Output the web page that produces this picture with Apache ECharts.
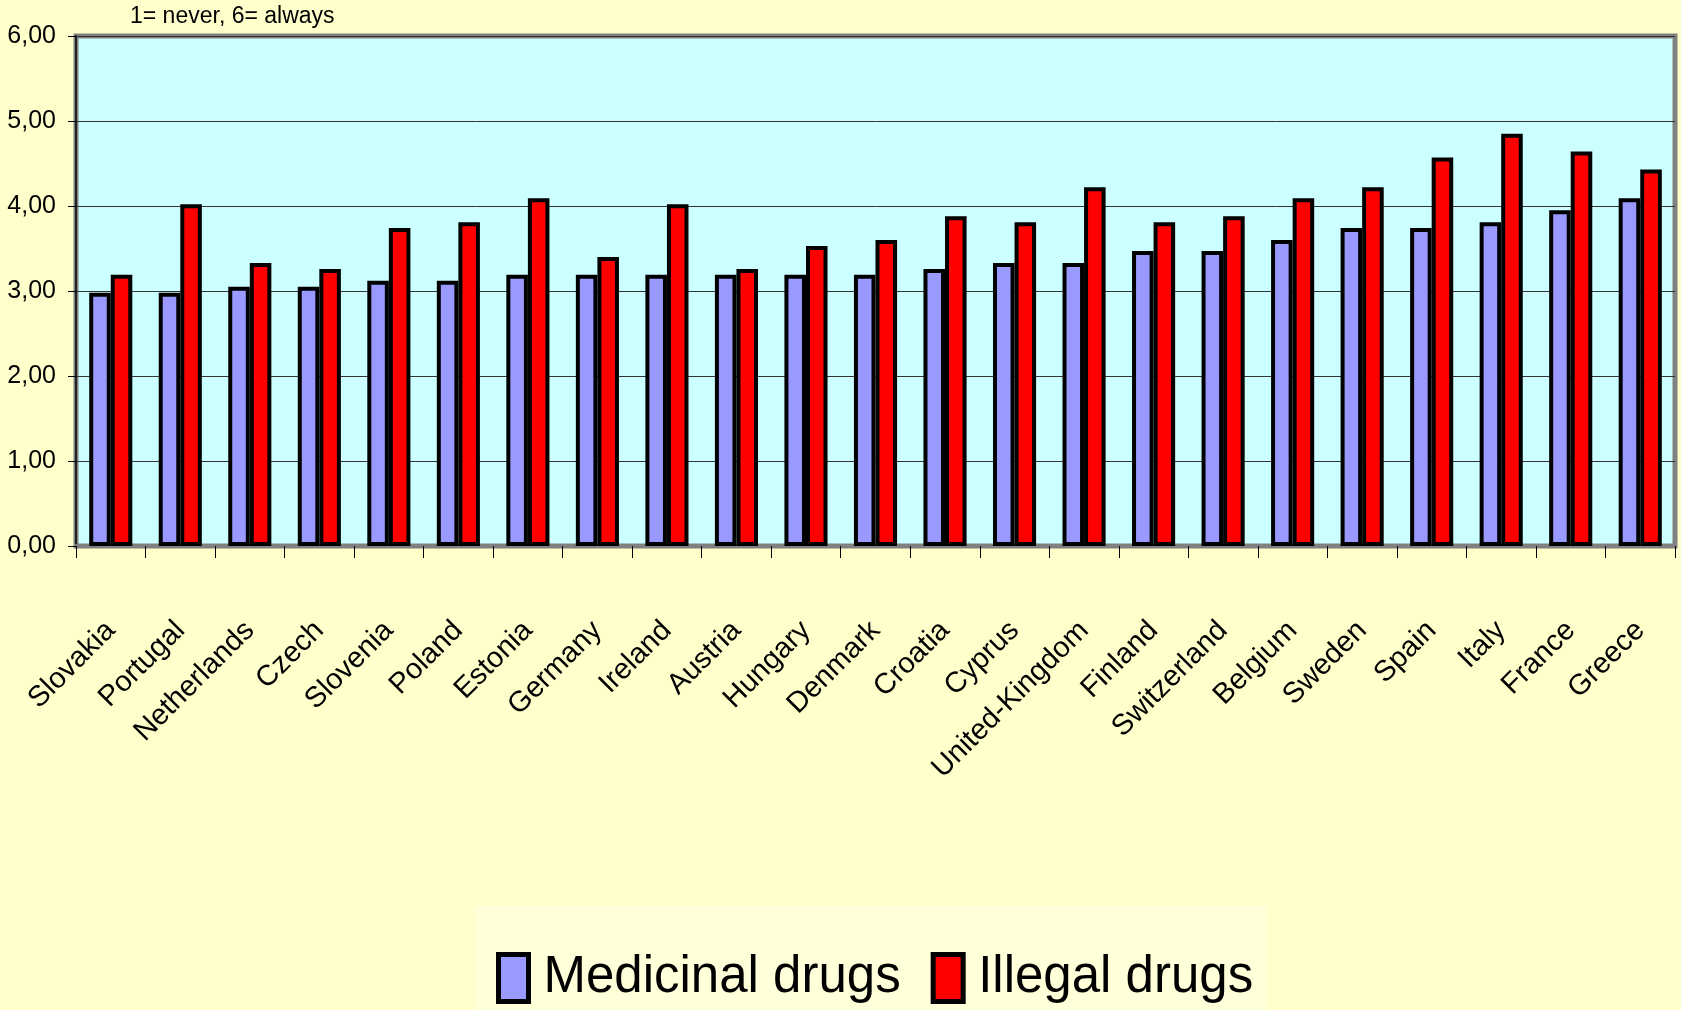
<!DOCTYPE html>
<html>
<head>
<meta charset="utf-8">
<script src="https://cdn.jsdelivr.net/npm/echarts@6/dist/echarts.min.js"></script>
<style>
  html, body { margin: 0; padding: 0; background: #FFFFCC; }
  #chart { width: 1681px; height: 1010px; }
</style>
</head>
<body>
<div id="chart"></div>
<script>
const countries = ["Slovakia", "Portugal", "Netherlands", "Czech", "Slovenia", "Poland", "Estonia", "Germany", "Ireland", "Austria", "Hungary", "Denmark", "Croatia", "Cyprus", "United-Kingdom", "Finland", "Switzerland", "Belgium", "Sweden", "Spain", "Italy", "France", "Greece"];
const medicinal = [2.98, 2.98, 3.05, 3.05, 3.12, 3.12, 3.19, 3.19, 3.19, 3.19, 3.19, 3.19, 3.26, 3.33, 3.33, 3.47, 3.47, 3.60, 3.74, 3.74, 3.81, 3.95, 4.09];
const illegal = [3.19, 4.02, 3.33, 3.26, 3.74, 3.81, 4.09, 3.40, 4.02, 3.26, 3.53, 3.60, 3.88, 3.81, 4.22, 3.81, 3.88, 4.09, 4.22, 4.57, 4.85, 4.64, 4.43];
const seriesNames = ["Medicinal drugs", "Illegal drugs"];
const subtitle = "1= never, 6= always";

const REG = '"Liberation Sans", Arial, sans-serif';

const chart = echarts.init(document.getElementById('chart'), null, { renderer: 'canvas' });
chart.setOption({
  backgroundColor: '#FFFFCC',
  animation: false,
  title: {
    text: subtitle,
    left: 130,
    top: 5,
    padding: 0,
    textStyle: { fontFamily: REG, fontSize: 23, fontWeight: 'normal', color: '#000' }
  },
  grid: {
    left: 76, right: 6, top: 36, bottom: 464,
    show: true,
    backgroundColor: '#CCFFFF',
    borderColor: '#808080',
    borderWidth: 5,
    containLabel: false,
    outerBoundsMode: 'none'
  },
  legend: {
    data: seriesNames,
    left: 475,
    top: 906,
    orient: 'horizontal',
    icon: 'rect',
    itemWidth: 30,
    itemHeight: 47,
    itemGap: 30,
    backgroundColor: '#FFFFDA',
    padding: [46, 14, 12, 21],
    itemStyle: { borderColor: '#000', borderWidth: 5 },
    textStyle: { fontFamily: REG, fontSize: 51, color: '#000', lineHeight: 47, padding: [0, 0, 0, 10] }
  },
  xAxis: {
    type: 'category',
    data: countries,
    boundaryGap: true,
    axisLine: { show: true, lineStyle: { color: '#808080', width: 4 } },
    axisTick: { show: true, length: 12, lineStyle: { color: '#000', width: 1 } },
    axisLabel: {
      interval: 0,
      rotate: 45,
      margin: 80,
      fontFamily: REG,
      fontSize: 29,
      color: '#000'
    },
    splitLine: { show: false }
  },
  yAxis: {
    type: 'value',
    min: 0,
    max: 6,
    interval: 1,
    axisLine: { show: true, lineStyle: { color: '#222', width: 2 } },
    axisTick: { show: true, length: 8, lineStyle: { color: '#000', width: 1 } },
    axisLabel: {
      margin: 20,
      fontFamily: REG,
      fontSize: 25,
      color: '#000',
      formatter: v => v.toFixed(2).replace('.', ',')
    },
    splitLine: { show: true, lineStyle: { color: '#333', width: 1 } }
  },
  series: [
    {
      name: seriesNames[0],
      type: 'bar',
      data: medicinal,
      barGap: '0%',
      barCategoryGap: '38%',
      itemStyle: { color: '#9999FF', borderColor: '#000', borderWidth: 4 }
    },
    {
      name: seriesNames[1],
      type: 'bar',
      data: illegal,
      barGap: '0%',
      barCategoryGap: '38%',
      itemStyle: { color: '#FF0000', borderColor: '#000', borderWidth: 4 }
    }
  ]
});
</script>
</body>
</html>
